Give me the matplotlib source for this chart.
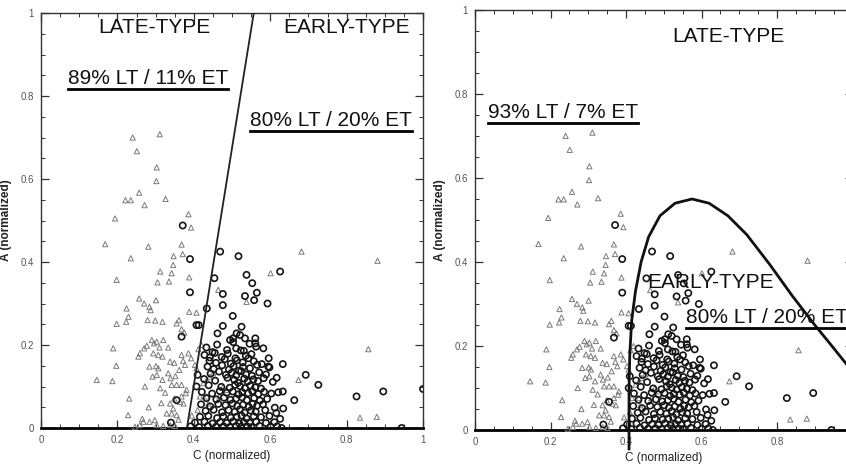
import matplotlib
matplotlib.use("Agg")
import matplotlib.pyplot as plt
from matplotlib.ticker import MultipleLocator, FixedLocator
from matplotlib.lines import Line2D

plt.rcParams['font.family'] = ['Liberation Sans', 'DejaVu Sans']

# ---------------- data ----------------
tri_c = [0.240, 0.311, 0.251, 0.303, 0.302, 0.194, 0.221, 0.235, 0.257, 0.271, 0.326, 0.386, 0.393,
         0.168, 0.281, 0.368, 0.235, 0.347, 0.371, 0.346, 0.312, 0.342, 0.388, 0.198, 0.305, 0.335,
         0.257, 0.270, 0.284, 0.287, 0.301, 0.224, 0.229, 0.223, 0.198, 0.279, 0.299, 0.318, 0.355,
         0.361, 0.368, 0.375, 0.388, 0.407, 0.189, 0.197, 0.146, 0.187, 0.231, 0.228, 0.255, 0.259,
         0.270, 0.277, 0.290, 0.296, 0.303, 0.310, 0.320, 0.333, 0.294, 0.307, 0.318, 0.284, 0.301,
         0.307, 0.292, 0.303, 0.318, 0.272, 0.333, 0.339, 0.312, 0.342, 0.355, 0.368, 0.338, 0.349,
         0.368, 0.372, 0.377, 0.386, 0.393, 0.403, 0.407, 0.349, 0.338, 0.346, 0.368, 0.364, 0.373,
         0.381, 0.379, 0.329, 0.342, 0.355, 0.298, 0.284, 0.268, 0.259, 0.246, 0.303, 0.320, 0.338,
         0.351, 0.410, 0.416, 0.425, 0.434, 0.442, 0.451, 0.467, 0.477, 0.486, 0.434, 0.438, 0.464,
         0.538, 0.601, 0.682, 0.881, 0.857, 0.835, 0.879, 0.674, 0.362, 0.352, 0.325, 0.315, 0.282,
         0.265, 0.360, 0.395, 0.412, 0.420]
tri_a = [0.700, 0.708, 0.667, 0.628, 0.595, 0.505, 0.549, 0.549, 0.567, 0.537, 0.552, 0.515, 0.483,
         0.443, 0.437, 0.442, 0.409, 0.414, 0.419, 0.393, 0.377, 0.373, 0.363, 0.357, 0.351, 0.353,
         0.312, 0.300, 0.292, 0.284, 0.308, 0.288, 0.268, 0.256, 0.251, 0.260, 0.259, 0.256, 0.252,
         0.260, 0.238, 0.230, 0.280, 0.278, 0.192, 0.150, 0.116, 0.113, 0.071, 0.031, 0.172, 0.180,
         0.192, 0.198, 0.212, 0.204, 0.208, 0.194, 0.212, 0.194, 0.180, 0.176, 0.172, 0.148, 0.149,
         0.144, 0.124, 0.128, 0.116, 0.100, 0.132, 0.120, 0.096, 0.104, 0.104, 0.104, 0.160, 0.157,
         0.176, 0.162, 0.152, 0.180, 0.168, 0.152, 0.144, 0.071, 0.059, 0.047, 0.076, 0.063, 0.059,
         0.092, 0.084, 0.035, 0.035, 0.031, 0.019, 0.015, 0.015, 0.007, 0.003, 0.007, 0.005, 0.007,
         0.005, 0.043, 0.076, 0.108, 0.116, 0.124, 0.132, 0.076, 0.100, 0.092, 0.076, 0.059, 0.333,
         0.304, 0.373, 0.425, 0.403, 0.190, 0.025, 0.027, 0.116, 0.140, 0.125, 0.085, 0.060, 0.050,
         0.022, 0.020, 0.030, 0.190, 0.200]

circ_c = [0.371, 0.390, 0.390, 0.469, 0.517, 0.454, 0.538, 0.553, 0.534, 0.565, 0.558, 0.476, 0.476,
          0.593, 0.626, 0.502, 0.434, 0.407, 0.413, 0.476, 0.462, 0.525, 0.512, 0.521, 0.503, 0.495,
          0.534, 0.561, 0.561, 0.582, 0.596, 0.595, 0.633, 0.617, 0.693, 0.726, 0.663, 0.633, 0.634,
          0.826, 0.896, 1.000, 0.944, 0.630, 0.407, 0.410, 0.355, 0.340, 0.368, 0.442,
          # dense cluster
          0.433, 0.449, 0.461, 0.487, 0.503, 0.511, 0.531, 0.546, 0.563,
          0.428, 0.455, 0.473, 0.489, 0.509, 0.523, 0.536, 0.551,
          0.441, 0.458, 0.481, 0.497, 0.513, 0.528, 0.543, 0.557, 0.578,
          0.436, 0.452, 0.474, 0.492, 0.504, 0.518, 0.529, 0.547, 0.566, 0.598,
          0.444, 0.466, 0.484, 0.499, 0.511, 0.524, 0.537, 0.552, 0.571, 0.589,
          0.427, 0.456, 0.488, 0.506, 0.516, 0.532, 0.541, 0.556, 0.568, 0.583, 0.607,
          0.439, 0.472, 0.494, 0.508, 0.521, 0.534, 0.548, 0.561, 0.576,
          0.421, 0.448, 0.468, 0.486, 0.502, 0.517, 0.527, 0.542, 0.553, 0.569, 0.584, 0.603, 0.621,
          0.433, 0.459, 0.479, 0.496, 0.511, 0.526, 0.539, 0.558, 0.573, 0.592,
          0.419, 0.443, 0.464, 0.483, 0.501, 0.514, 0.529, 0.544, 0.554, 0.566, 0.581, 0.612,
          0.431, 0.452, 0.474, 0.491, 0.507, 0.521, 0.533, 0.549, 0.562, 0.587, 0.616,
          0.416, 0.438, 0.461, 0.477, 0.497, 0.512, 0.525, 0.538, 0.557, 0.576, 0.598, 0.626,
          0.403, 0.428, 0.449, 0.469, 0.486, 0.503, 0.519, 0.531, 0.546, 0.563, 0.589, 0.611,
          0.392, 0.414, 0.437, 0.458, 0.478, 0.494, 0.511, 0.524, 0.539, 0.551, 0.572, 0.601, 0.618]
circ_a = [0.488, 0.407, 0.327, 0.425, 0.414, 0.361, 0.369, 0.349, 0.318, 0.326, 0.308, 0.323, 0.296,
          0.300, 0.377, 0.270, 0.288, 0.248, 0.248, 0.246, 0.228, 0.244, 0.228, 0.224, 0.216, 0.212,
          0.216, 0.216, 0.204, 0.192, 0.168, 0.148, 0.154, 0.121, 0.128, 0.104, 0.067, 0.088, 0.047,
          0.076, 0.088, 0.094, 0.000, 0.000, 0.100, 0.128, 0.067, 0.013, 0.220, 0.170,
          # dense cluster
          0.194, 0.183, 0.201, 0.188, 0.207, 0.192, 0.186, 0.203, 0.196,
          0.176, 0.181, 0.171, 0.179, 0.168, 0.187, 0.174, 0.178,
          0.162, 0.157, 0.166, 0.155, 0.163, 0.158, 0.168, 0.161, 0.154,
          0.148, 0.142, 0.151, 0.141, 0.149, 0.138, 0.147, 0.144, 0.152, 0.146,
          0.131, 0.136, 0.128, 0.133, 0.127, 0.137, 0.129, 0.126, 0.134, 0.129,
          0.118, 0.114, 0.121, 0.116, 0.109, 0.119, 0.112, 0.117, 0.113, 0.120, 0.111,
          0.103, 0.099, 0.097, 0.104, 0.101, 0.096, 0.102, 0.098, 0.095,
          0.087, 0.083, 0.089, 0.085, 0.088, 0.081, 0.086, 0.084, 0.089, 0.082, 0.087, 0.083, 0.086,
          0.072, 0.069, 0.073, 0.068, 0.071, 0.074, 0.067, 0.072, 0.066, 0.070,
          0.057, 0.052, 0.058, 0.055, 0.059, 0.053, 0.056, 0.051, 0.058, 0.054, 0.057, 0.049,
          0.041, 0.044, 0.038, 0.043, 0.039, 0.045, 0.037, 0.042, 0.039, 0.043, 0.036,
          0.027, 0.029, 0.024, 0.028, 0.025, 0.027, 0.030, 0.023, 0.028, 0.026, 0.029, 0.022,
          0.013, 0.015, 0.011, 0.014, 0.012, 0.016, 0.011, 0.014, 0.013, 0.015, 0.012, 0.014,
          0.004, 0.002, 0.005, 0.003, 0.004, 0.002, 0.005, 0.003, 0.004, 0.002, 0.005, 0.003, 0.004]

line_c = [0.382, 0.557]
line_a = [0.000, 1.000]

curve_c = [0.408, 0.408, 0.408, 0.410, 0.415, 0.425, 0.440, 0.460, 0.490, 0.530, 0.575, 0.620,
           0.670, 0.720, 0.780, 0.840, 0.900, 0.950, 0.990]
curve_a = [-0.045, 0.000, 0.100, 0.180, 0.260, 0.330, 0.400, 0.460, 0.510, 0.540, 0.550, 0.540,
           0.510, 0.465, 0.395, 0.320, 0.250, 0.195, 0.150]

tick_vals = [0, 0.2, 0.4, 0.6, 0.8, 1.0]
tick_labels = ["0", "0.2", "0.4", "0.6", "0.8", "1"]

# ---------------- figure ----------------
W, H = 846, 476
fig = plt.figure(figsize=(W / 100, H / 100), dpi=100)
ax1 = fig.add_axes([41 / W, (H - 428) / H, 382 / W, 415 / H])
ax2 = fig.add_axes([475 / W, (H - 430) / H, 377.5 / W, 420 / H])

def style(ax):
    ax.set_xlim(0, 1)
    ax.set_ylim(0, 1)
    ax.xaxis.set_major_locator(FixedLocator(tick_vals))
    ax.yaxis.set_major_locator(FixedLocator(tick_vals))
    ax.set_xticklabels(tick_labels)
    ax.set_yticklabels(tick_labels)
    ax.xaxis.set_minor_locator(MultipleLocator(0.05))
    ax.yaxis.set_minor_locator(MultipleLocator(0.05))
    ax.tick_params(which='both', direction='in', top=True, right=True, colors='#333333',
                   labelsize=7, labelcolor='#555555', pad=5)
    ax.tick_params(which='major', length=6, width=0.9)
    ax.tick_params(which='minor', length=3, width=0.7)
    for s in ['left', 'top', 'right']:
        ax.spines[s].set_linewidth(1.0)
        ax.spines[s].set_color('#333333')
    ax.spines['bottom'].set_linewidth(2.0)
    ax.spines['bottom'].set_color('black')
    ax.set_xlabel("C (normalized)", fontsize=8.5, color='#222222', labelpad=4)
    ax.set_ylabel("A (normalized)", fontsize=8.5, fontweight='bold', color='#222222', labelpad=6)
    ax.scatter(tri_c, tri_a, marker='^', s=14, facecolors='none', edgecolors='#7a7a7a',
               linewidths=0.7, zorder=3, clip_on=False)
    ax.scatter(circ_c, circ_a, marker='o', s=20, facecolors='none', edgecolors='#151515',
               linewidths=1.2, zorder=4, clip_on=True)

style(ax1)
style(ax2)

ax1.plot(line_c, line_a, color='#222222', lw=1.3, zorder=5)
ax2.plot(curve_c, curve_a, color='#111111', lw=2.0, zorder=5, clip_on=False)

tk = dict(fontsize=15, color='#111111', zorder=6)
ax1.text(0.296, 0.964, "LATE-TYPE", ha='center', va='center', **tk)
ax1.text(0.801, 0.964, "EARLY-TYPE", ha='center', va='center', **tk)
u1 = ax1.text(0.071, 0.843, "89% LT / 11% ET", ha='left', va='center', **tk)
u2 = ax1.text(0.547, 0.742, "80% LT / 20% ET", ha='left', va='center', **tk)
ax2.text(0.670, 0.938, "LATE-TYPE", ha='center', va='center', **tk)
u3 = ax2.text(0.034, 0.755, "93% LT / 7% ET", ha='left', va='center', **tk)
ax2.text(0.625, 0.352, "EARLY-TYPE", ha='center', va='center', **tk)
u4 = ax2.text(0.559, 0.267, "80% LT / 20% ET", ha='left', va='center', clip_on=False, **tk)

fig.canvas.draw()
r = fig.canvas.get_renderer()
for t in (u1, u2, u3, u4):
    bb = t.get_window_extent(renderer=r)
    y = bb.y0 - 1.0
    fig.add_artist(Line2D([bb.x0 / W, bb.x1 / W], [y / H, y / H], transform=fig.transFigure,
                          color='black', lw=2.0, zorder=7))

fig.savefig("out.png", dpi=100)
